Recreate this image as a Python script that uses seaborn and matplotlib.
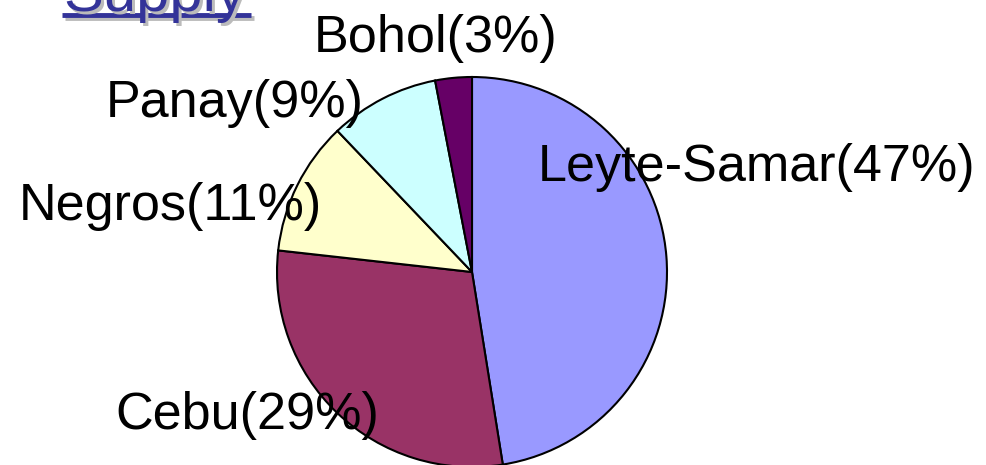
import matplotlib
matplotlib.use("Agg")
import matplotlib.pyplot as plt
import seaborn as sns

# data
islands = ['Leyte-Samar', 'Cebu', 'Negros', 'Panay', 'Bohol']
shares = [47, 29, 11, 9, 3]
colors = ['#9999FF', '#993366', '#FFFFCC', '#CCFFFF', '#660066']

sns.set_theme(style="white")
plt.rcParams['font.family'] = ['Liberation Sans', 'DejaVu Sans']

W, H = 987, 465
fig = plt.figure(figsize=(W / 100, H / 100), dpi=100)
ax = fig.add_axes([0, 0, 1, 1])

ax.pie(shares, colors=colors, startangle=90, counterclock=False,
       center=(472, H - 272), radius=195, frame=True,
       wedgeprops=dict(edgecolor='black', linewidth=1.5))
ax.set_xlim(0, W)
ax.set_ylim(0, H)
ax.set_aspect('equal')
ax.axis('off')

# labels
label_pos = {
    'Leyte-Samar': (757, 167),
    'Cebu': (247, 415),
    'Negros': (170, 206),
    'Panay': (235, 103),
    'Bohol': (436, 38),
}
for name, val in zip(islands, shares):
    x, y = label_pos[name]
    ax.text(x, H - y, f'{name}({val}%)', ha='center', va='center',
            fontsize=37.5, color='black')

# title "Supply" (cut off at top)
ax.text(66, H - 14, 'Supply', fontsize=43, color='#BBBBBB', ha='left', va='baseline')
ax.text(63, H - 11, 'Supply', fontsize=43, color='#333399', ha='left', va='baseline')
ax.plot([65, 254], [H - 18, H - 18], color='#BBBBBB', lw=3.5, solid_capstyle='butt')
ax.plot([62, 251], [H - 15, H - 15], color='#333399', lw=3.5, solid_capstyle='butt')

fig.savefig('out.png', dpi=100)
